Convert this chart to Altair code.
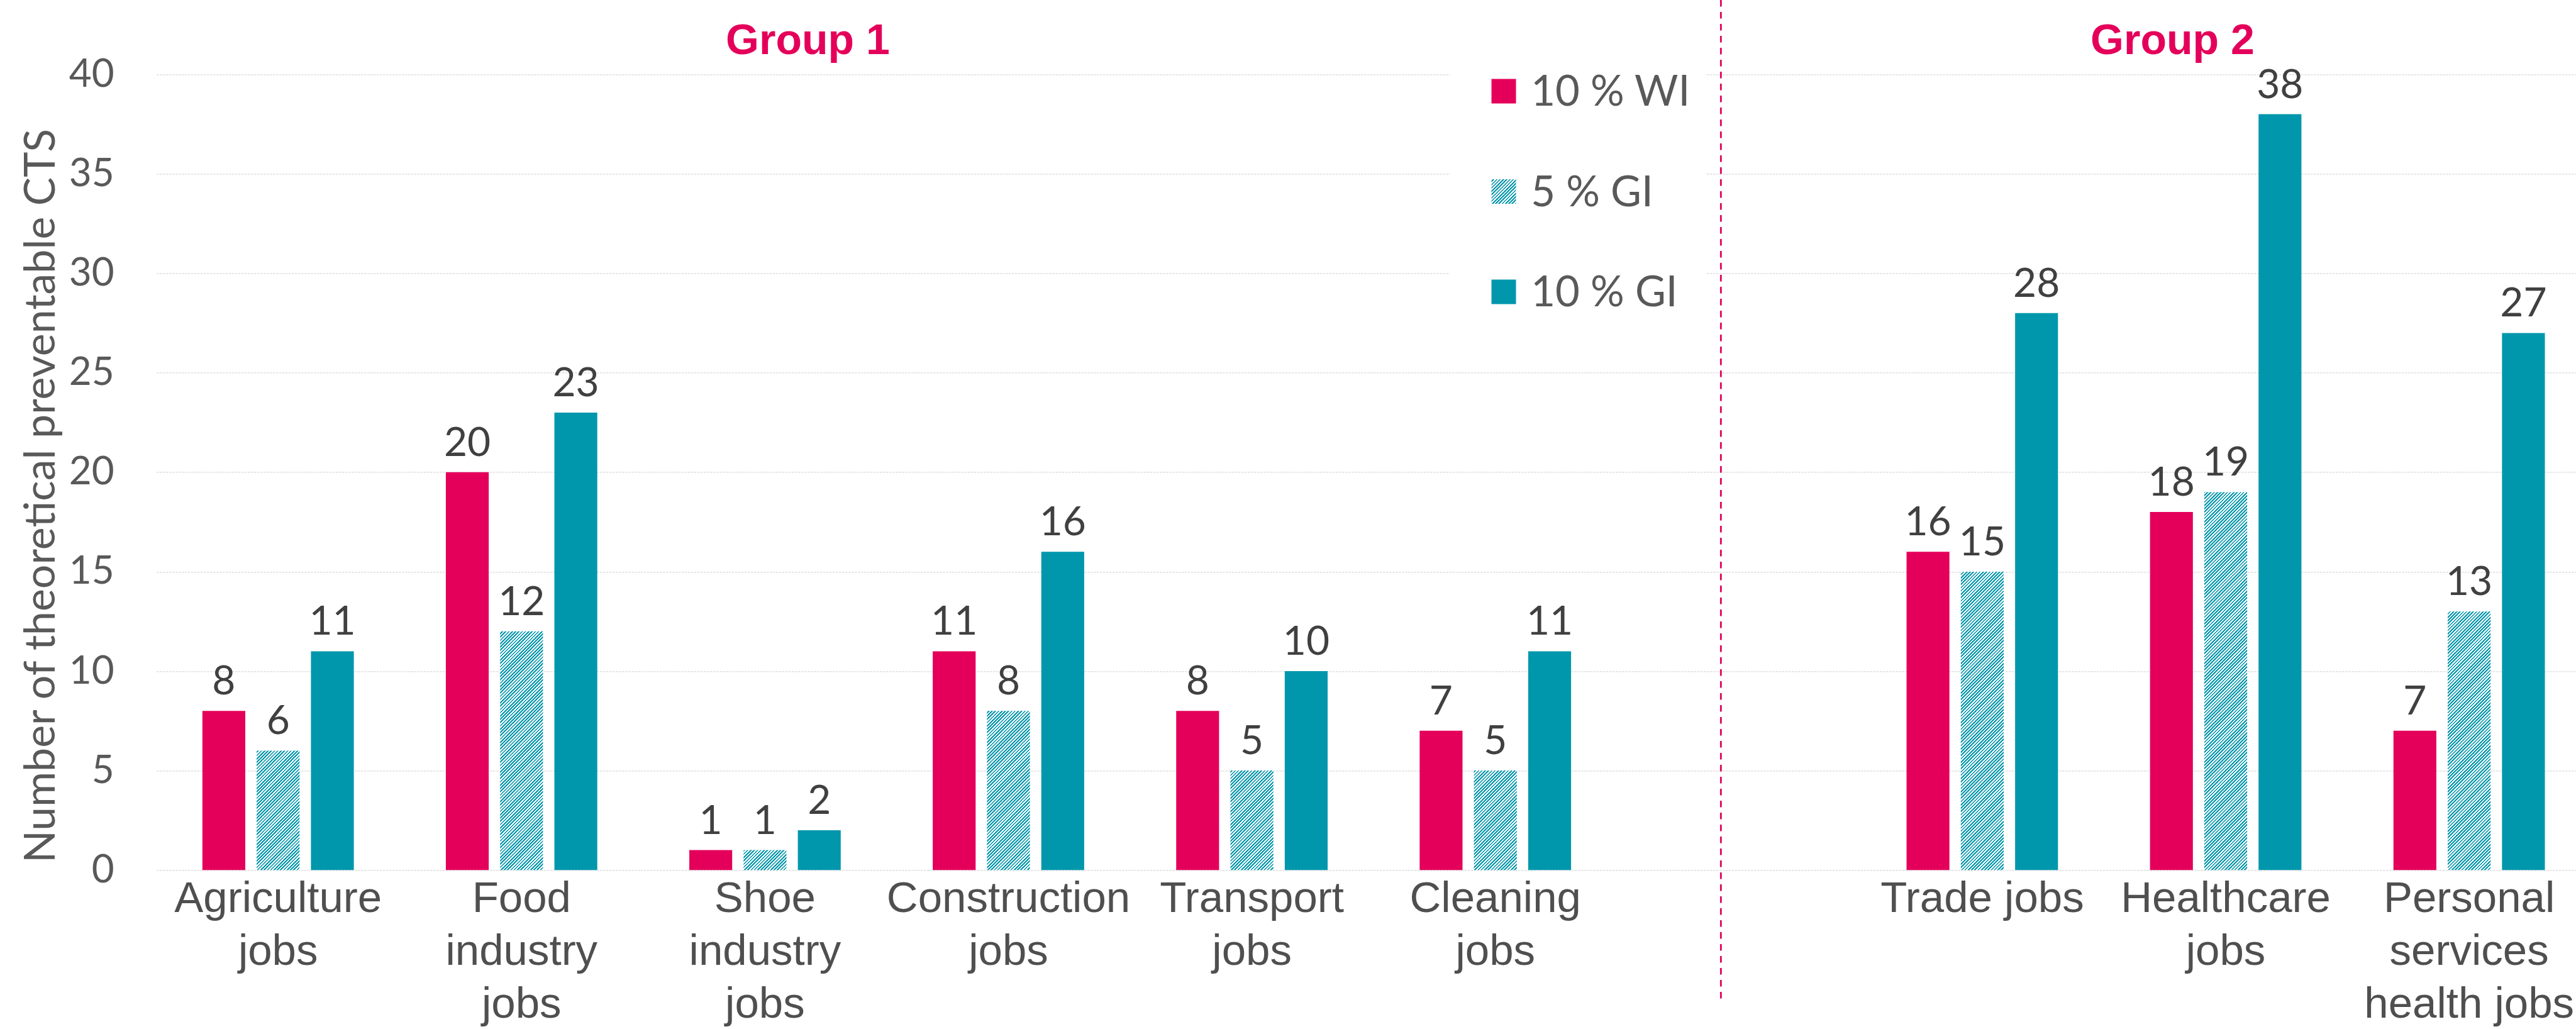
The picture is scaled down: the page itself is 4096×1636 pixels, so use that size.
import math
import json
import altair as alt
import pandas as pd

# ---------------- data ----------------
categories = ["Agriculture jobs", "Food industry jobs", "Shoe industry jobs",
              "Construction jobs", "Transport jobs", "Cleaning jobs", " ",
              "Trade jobs", "Healthcare jobs", "Personal services health jobs"]
label_lines = {
    "Agriculture jobs": ["Agriculture", "jobs"],
    "Food industry jobs": ["Food", "industry", "jobs"],
    "Shoe industry jobs": ["Shoe", "industry", "jobs"],
    "Construction jobs": ["Construction", "jobs"],
    "Transport jobs": ["Transport", "jobs"],
    "Cleaning jobs": ["Cleaning", "jobs"],
    "Trade jobs": ["Trade jobs"],
    "Healthcare jobs": ["Healthcare", "jobs"],
    "Personal services health jobs": ["Personal", "services", "health jobs"],
}
series = ["10 % WI", "5 % GI", "10 % GI"]
wi_10 = [8, 20, 1, 11, 8, 7, None, 16, 18, 7]
gi_5 = [6, 12, 1, 8, 5, 5, None, 15, 19, 13]
gi_10 = [11, 23, 2, 16, 10, 11, None, 28, 38, 27]
group_titles = ["Group 1", "Group 2"]

rows = []
for cat, a, b, c in zip(categories, wi_10, gi_5, gi_10):
    for s, v in zip(series, (a, b, c)):
        if v is not None:
            rows.append({"cat": cat, "series": s, "value": v})
df = pd.DataFrame(rows)
legend_df = pd.DataFrame({"series": series})
one = pd.DataFrame({"k": [0]})

# ---------------- layout ----------------
S = 0.654
RED = "#E4005A"
TEAL = "#0097AC"
PAD_L = 380 * S
PAD_T = 181 * S
PLOT_H = (2115 - 181) * S
PLOT_W = 4096 - PAD_L
PAD_B = 1636 - PAD_T - PLOT_H

P_IN, P_OUT, ALIGN = 0.378, 0.1586, 0.597
OFF_PAD = 0.21
step = PLOT_W / (10 - P_IN + 2 * P_OUT)
band = step * (1 - P_IN)
BAR_W = band / (3 - OFF_PAD) * (1 - OFF_PAD)
K = PLOT_H / 40.0          # px per unit
HM = PLOT_H                # max bar height handled by the hatch gradient
L0 = BAR_W + HM
PERIOD = 8 * S
FRAC = 0.5
SQ = 39.0


def hatch_stops(lo, hi, period, frac, on, off):
    span = hi - lo

    def color_at(p):
        r = (p / period) % 1.0
        return on if r < frac else off

    stops = [{"offset": 0.0, "color": color_at(lo + 1e-6)}]
    bounds = []
    for j in range(math.floor(lo / period) - 1, math.ceil(hi / period) + 2):
        for b in (j * period, (j + frac) * period):
            if lo < b < hi:
                bounds.append(b)
    bounds.sort()
    for b in bounds:
        o = round((b - lo) / span, 6)
        stops.append({"offset": o, "color": color_at(b - 1e-6)})
        stops.append({"offset": o, "color": color_at(b + 1e-6)})
    stops.append({"offset": 1.0, "color": color_at(hi - 1e-6)})
    return stops


bar_stops = alt.param(name="hatchStops", value=hatch_stops(-HM, BAR_W, PERIOD, FRAC, TEAL, "#FFFFFF"))
leg_stops = alt.param(name="legStops", value=hatch_stops(-SQ, SQ, PERIOD, FRAC, TEAL, "#FFFFFF"))

hv = f"(datum.value*{K:.5f})"
den = f"({BAR_W*BAR_W:.5f}+{hv}*{hv})"
y1 = f"(1-{HM:.5f}/{hv})"
bar_fill = (
    f"datum.series === '5 % GI' ? {{'gradient': 'linear', 'x1': 0, 'y1': {y1}, "
    f"'x2': {L0:.5f}*{BAR_W:.5f}/{den}, 'y2': {y1}+{L0:.5f}*{hv}/{den}, 'stops': hatchStops}} : "
    f"(datum.series === '10 % WI' ? '{RED}' : '{TEAL}')"
)
leg_fill = (
    "datum.series === '5 % GI' ? {'gradient': 'linear', 'x1': 0, 'y1': 0, 'x2': 1, 'y2': 1, "
    f"'stops': legStops}} : (datum.series === '10 % WI' ? '{RED}' : '{TEAL}')"
)

label_expr = "(" + json.dumps(label_lines) + ")[datum.label] || ''"

x_enc = alt.X("cat:N", scale=alt.Scale(domain=categories, paddingInner=P_IN,
                                       paddingOuter=P_OUT, align=ALIGN),
              axis=alt.Axis(title=None, labelExpr=label_expr, labelFont="Liberation Sans",
                            labelFontSize=69, labelColor="#4F4F4F", labelLineHeight=84,
                            labelPadding=11, labelBaseline="top", labelAngle=0,
                            labelLimit=1000, labelOverlap=False, ticks=False,
                            domain=False, grid=False))
xo_enc = alt.XOffset("series:N", scale=alt.Scale(domain=series, paddingInner=OFF_PAD,
                                                 paddingOuter=0))
y_scale = alt.Scale(domain=[0, 40], nice=False)

bars = alt.Chart(df).mark_bar(fill=alt.expr(bar_fill), strokeWidth=0).encode(
    x=x_enc, xOffset=xo_enc,
    y=alt.Y("value:Q", scale=y_scale,
            axis=alt.Axis(values=list(range(0, 41, 5)),
                          title="Number of theoretical preventable CTS",
                          titleFont="Lato", titleFontSize=68, titleFontWeight="normal",
                          titleColor="#595959", titleX=-182, titleY=669.6,
                          titleAlign="center", titleBaseline="middle",
                          labelFont="Lato", labelFontSize=62, labelColor="#595959",
                          labelPadding=67.3, ticks=False, domain=False, grid=True,
                          gridColor="#D9D9D9", gridDash=[3.5, 1.5], gridWidth=1.3)),
)

labels = alt.Chart(df).mark_text(font="Lato", fontSize=64, color="#404040",
                                 baseline="alphabetic", dy=-26).encode(
    x=x_enc, xOffset=xo_enc,
    y=alt.Y("value:Q", scale=y_scale, axis=None),
    text="value:Q",
)

leg_y = alt.Y("series:N", scale=alt.Scale(type="point", domain=series,
                                          range=[145 - PAD_T, 464 - PAD_T], padding=0),
              axis=None)

leg_bg = alt.Chart(one).mark_rect(fill="white").encode(
    x=alt.value(3525 * S - PAD_L), x2=alt.value(4147 * S - PAD_L),
    y=alt.value(130 * S - PAD_T), y2=alt.value(760 * S - PAD_T),
)
leg_sq = alt.Chart(legend_df).mark_square(size=SQ * SQ, fill=alt.expr(leg_fill),
                                         strokeWidth=0, opacity=1).encode(
    x=alt.value(3656 * S - PAD_L), y=leg_y,
)
leg_tx = alt.Chart(legend_df).mark_text(font="Lato", fontSize=67, color="#595959",
                                        align="left", baseline="middle", dy=3).encode(
    x=alt.value(3722 * S - PAD_L), y=leg_y, text="series:N",
)

sep = alt.Chart(one).mark_rule(color=RED, strokeWidth=2.8, strokeDash=[10.5, 8.5]).encode(
    x=alt.value(4184 * S - PAD_L), y=alt.value(-PAD_T), y2=alt.value(2434 * S - PAD_T),
)

g1 = alt.Chart(one).mark_text(font="Liberation Sans", fontWeight="bold", fontSize=68,
                              color=RED, baseline="alphabetic", align="center").encode(
    x=alt.value(1964 * S - PAD_L), y=alt.value(131 * S - PAD_T), text=alt.value(group_titles[0]),
)
g2 = alt.Chart(one).mark_text(font="Liberation Sans", fontWeight="bold", fontSize=68,
                              color=RED, baseline="alphabetic", align="center").encode(
    x=alt.value(5282 * S - PAD_L), y=alt.value(131 * S - PAD_T), text=alt.value(group_titles[1]),
)

chart = alt.layer(bars, labels, leg_bg, leg_sq, leg_tx, sep, g1, g2).add_params(
    bar_stops, leg_stops
).resolve_scale(y="independent").properties(
    width=PLOT_W, height=PLOT_H,
    padding={"left": PAD_L, "top": PAD_T, "right": 0, "bottom": PAD_B},
    autosize=alt.AutoSizeParams(type="none"),
    background="white",
).configure_view(stroke=None)

chart.save("out.html", embed_options={"renderer": "svg", "actions": False})
